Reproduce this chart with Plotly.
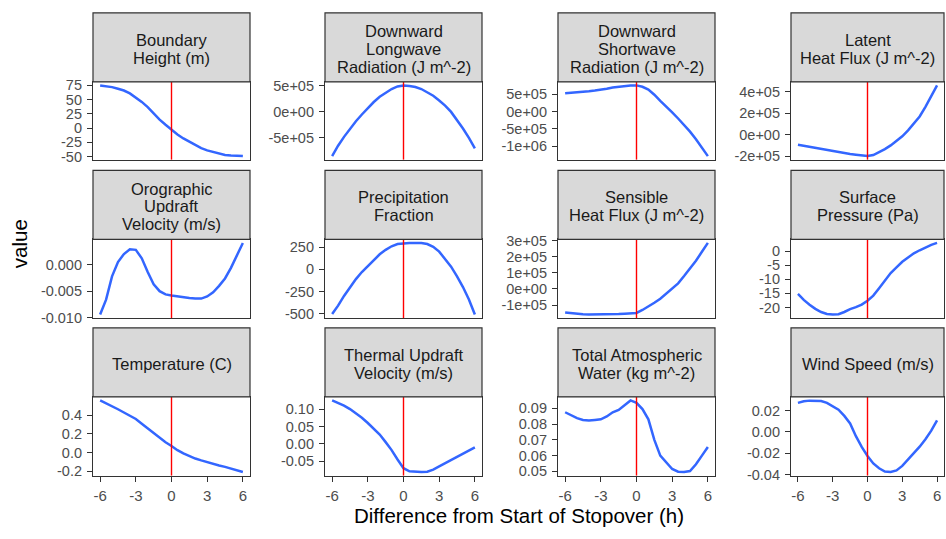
import plotly.graph_objects as go

# Hours relative to the start of the stopover
hours = [-6, -5.5, -5, -4.5, -4, -3.5, -3, -2.5, -2, -1.5, -1, -0.5, 0,
         0.5, 1, 1.5, 2, 2.5, 3, 3.5, 4, 4.5, 5, 5.5, 6]

boundary_height = [75, 74, 72, 69, 66, 61, 54, 46, 37, 26, 15, 6, -3,
                   -11, -18, -24, -30, -35, -39, -42, -45, -47, -48, -49, -49]
longwave = [-8.5e5, -6.5e5, -4.8e5, -3.2e5, -1.8e5, -0.5e5, 0.8e5, 1.9e5, 2.9e5, 3.7e5, 4.4e5, 4.9e5, 5.1e5,
            5.0e5, 4.8e5, 4.4e5, 3.8e5, 3.1e5, 2.2e5, 1.2e5, 0.0, -1.5e5, -3.2e5, -5.0e5, -7.0e5]
shortwave = [5.3e5, 5.4e5, 5.5e5, 5.7e5, 5.9e5, 6.1e5, 6.3e5, 6.6e5, 7.0e5, 7.2e5, 7.5e5, 7.6e5, 7.6e5,
             7.2e5, 6.4e5, 4.9e5, 3.1e5, 1.5e5, -0.2e5, -2.0e5, -3.8e5, -5.8e5, -8.0e5, -10.4e5, -12.9e5]
latent_flux = [-0.95e5, -1.05e5, -1.15e5, -1.25e5, -1.35e5, -1.45e5, -1.55e5, -1.65e5, -1.72e5, -1.8e5, -1.87e5, -1.95e5, -2.0e5,
               -1.9e5, -1.65e5, -1.35e5, -1.0e5, -0.6e5, -0.15e5, 0.4e5, 1.0e5, 1.7e5, 2.6e5, 3.6e5, 4.6e5]
orographic = [-0.0094, -0.0066, -0.0022, 0.0005, 0.0020, 0.0029, 0.0028, 0.0012, -0.0014, -0.0037, -0.0050, -0.0056, -0.0058,
              -0.0060, -0.0062, -0.0063, -0.0064, -0.0064, -0.0060, -0.0052, -0.0040, -0.0026, -0.0006, 0.0017, 0.0041]
precip_fraction = [-505, -410, -300, -200, -110, -30, 40, 110, 170, 220, 260, 285, 295,
                   298, 298, 296, 285, 255, 200, 120, 30, -80, -200, -340, -510]
sensible_flux = [-1.45e5, -1.5e5, -1.55e5, -1.57e5, -1.58e5, -1.58e5, -1.58e5, -1.58e5, -1.57e5, -1.55e5, -1.53e5, -1.51e5, -1.48e5,
                 -1.3e5, -1.1e5, -0.85e5, -0.6e5, -0.3e5, 0.0, 0.35e5, 0.8e5, 1.25e5, 1.75e5, 2.3e5, 2.85e5]
surface_pressure = [-15.2, -17.3, -19.0, -20.5, -21.6, -22.3, -22.5, -22.4, -21.6, -20.6, -19.9, -19.0, -17.6,
                    -15.8, -13.2, -10.3, -7.8, -5.8, -3.8, -2.3, -0.8, 0.3, 1.3, 2.2, 2.9]
temperature = [0.56, 0.53, 0.50, 0.465, 0.43, 0.395, 0.36, 0.31, 0.26, 0.21, 0.155, 0.11, 0.07,
               0.025, -0.01, -0.04, -0.065, -0.085, -0.105, -0.12, -0.14, -0.155, -0.175, -0.19, -0.21]
thermal = [0.125, 0.118, 0.11, 0.10, 0.088, 0.075, 0.06, 0.044, 0.027, 0.005, -0.018, -0.045, -0.07,
           -0.079, -0.081, -0.081, -0.080, -0.074, -0.065, -0.056, -0.048, -0.039, -0.03, -0.02, -0.01]
atmos_water = [0.0875, 0.0855, 0.0838, 0.0826, 0.0822, 0.0826, 0.0830, 0.0848, 0.0875, 0.0890, 0.0918, 0.0950, 0.0935,
               0.0895, 0.0830, 0.0700, 0.0600, 0.0555, 0.0515, 0.0498, 0.0496, 0.0502, 0.0545, 0.0600, 0.0655]
wind_speed = [0.0272, 0.0287, 0.0293, 0.0295, 0.0290, 0.0272, 0.0243, 0.0208, 0.0150, 0.0080, -0.0040, -0.0140, -0.0225,
              -0.0295, -0.0340, -0.0370, -0.0375, -0.0360, -0.0318, -0.0258, -0.0200, -0.0138, -0.0068, 0.0012, 0.0108]

panel_titles = [["Boundary", "Height (m)"],
                ["Downward", "Longwave", "Radiation (J m^-2)"],
                ["Downward", "Shortwave", "Radiation (J m^-2)"],
                ["Latent", "Heat Flux (J m^-2)"],
                ["Orographic", "Updraft", "Velocity (m/s)"],
                ["Precipitation", "Fraction"],
                ["Sensible", "Heat Flux (J m^-2)"],
                ["Surface", "Pressure (Pa)"],
                ["Temperature (C)"],
                ["Thermal Updraft", "Velocity (m/s)"],
                ["Total Atmospheric", "Water (kg m^-2)"],
                ["Wind Speed (m/s)"]]
panel_values = [boundary_height, longwave, shortwave, latent_flux,
                orographic, precip_fraction, sensible_flux, surface_pressure,
                temperature, thermal, atmos_water, wind_speed]

y_tick_values = [[-50, -25, 0, 25, 50, 75],
                 [-5e5, 0, 5e5],
                 [-1e6, -5e5, 0, 5e5],
                 [-2e5, 0, 2e5, 4e5],
                 [-0.010, -0.005, 0.0],
                 [-500, -250, 0, 250],
                 [-1e5, 0, 1e5, 2e5, 3e5],
                 [-20, -15, -10, -5, 0],
                 [-0.2, 0.0, 0.2, 0.4],
                 [-0.05, 0.0, 0.05, 0.10],
                 [0.05, 0.06, 0.07, 0.08, 0.09],
                 [-0.04, -0.02, 0.0, 0.02]]
y_tick_labels = [["-50", "-25", "0", "25", "50", "75"],
                 ["-5e+05", "0e+00", "5e+05"],
                 ["-1e+06", "-5e+05", "0e+00", "5e+05"],
                 ["-2e+05", "0e+00", "2e+05", "4e+05"],
                 ["-0.010", "-0.005", "0.000"],
                 ["-500", "-250", "0", "250"],
                 ["-1e+05", "0e+00", "1e+05", "2e+05", "3e+05"],
                 ["-20", "-15", "-10", "-5", "0"],
                 ["-0.2", "0.0", "0.2", "0.4"],
                 ["-0.05", "0.00", "0.05", "0.10"],
                 ["0.05", "0.06", "0.07", "0.08", "0.09"],
                 ["-0.04", "-0.02", "0.00", "0.02"]]
x_tick_values = [-6, -3, 0, 3, 6]
x_tick_labels = ["-6", "-3", "0", "3", "6"]

W, H = 946, 539
col_px = [(93, 250), (325, 482), (558, 715), (791, 944)]
row_px = [(6, 77, 157), (168, 239, 320), (330, 401, 482)]  # strip top, panel top, panel bottom
STRIP_LINE_GAP = 18.3

FONT = "Liberation Sans, Arial, sans-serif"
LINE_BLUE = "#3366FF"
BORDER = "#333333"
TICK_FONT = dict(family=FONT, size=14.5, color="#4D4D4D")

fig = go.Figure()
shapes = []
annotations = []

x_span = max(hours) - min(hours)
x_range = [min(hours) - 0.05 * x_span, max(hours) + 0.05 * x_span]

for i, (title_lines, vals) in enumerate(zip(panel_titles, panel_values)):
    r, c = divmod(i, 4)
    n = i + 1
    xa = "x" if n == 1 else f"x{n}"
    ya = "y" if n == 1 else f"y{n}"
    xl = "xaxis" if n == 1 else f"xaxis{n}"
    yl = "yaxis" if n == 1 else f"yaxis{n}"
    x0p, x1p = col_px[c]
    st, pt, pb = row_px[r]

    lo, hi = min(vals), max(vals)
    span = hi - lo
    y_range = [lo - 0.05 * span, hi + 0.05 * span]

    fig.add_trace(go.Scatter(x=hours, y=vals, mode="lines", xaxis=xa, yaxis=ya,
                             line=dict(color=LINE_BLUE, width=2.5), showlegend=False,
                             hoverinfo="skip"))

    bottom_row = r == 2
    fig.layout[xl] = dict(domain=[x0p / W, x1p / W], anchor=ya, range=x_range,
                          showgrid=False, zeroline=False, showline=True, mirror=True,
                          linecolor=BORDER, linewidth=1.2,
                          ticks="outside" if bottom_row else "", ticklen=5, tickcolor=BORDER,
                          tickvals=x_tick_values, ticktext=x_tick_labels,
                          showticklabels=bottom_row, ticklabelstandoff=1,
                          tickfont=dict(family=FONT, size=15, color="#4D4D4D"))
    fig.layout[yl] = dict(domain=[1 - pb / H, 1 - pt / H], anchor=xa, range=y_range,
                          showgrid=False, zeroline=False, showline=True, mirror=True,
                          linecolor=BORDER, linewidth=1.2,
                          ticks="outside", ticklen=5, tickcolor=BORDER,
                          tickvals=y_tick_values[i], ticktext=y_tick_labels[i],
                          ticklabelstandoff=2, tickfont=TICK_FONT)

    # stopover start marker
    shapes.append(dict(type="line", xref=xa, yref=f"{ya} domain", x0=0, x1=0, y0=0, y1=1,
                       line=dict(color="#FF0000", width=1.4), layer="above"))
    # facet strip with its label lines
    shapes.append(dict(type="rect", xref="paper", yref="paper",
                       x0=x0p / W, x1=x1p / W, y0=1 - pt / H, y1=1 - st / H,
                       fillcolor="#D9D9D9", line=dict(color=BORDER, width=1.2)))
    mid = (st + pt) / 2 + 1.5
    k = len(title_lines)
    for j, line in enumerate(title_lines):
        yc = mid + (j - (k - 1) / 2) * STRIP_LINE_GAP
        annotations.append(dict(xref="paper", yref="paper", x=(x0p + x1p) / 2 / W,
                                y=1 - yc / H, text=line, showarrow=False,
                                xanchor="center", yanchor="middle",
                                font=dict(family=FONT, size=16.5, color="#1A1A1A")))

annotations.append(dict(xref="paper", yref="paper", x=519 / W, y=1 - 523 / H,
                        text="Difference from Start of Stopover (h)", showarrow=False,
                        xanchor="center", yanchor="middle",
                        font=dict(family=FONT, size=20.5, color="#000000")))
annotations.append(dict(xref="paper", yref="paper", x=19 / W, y=1 - 244 / H,
                        text="value", showarrow=False, textangle=-90,
                        xanchor="center", yanchor="middle",
                        font=dict(family=FONT, size=20.5, color="#000000")))

fig.update_layout(width=W, height=H, margin=dict(l=0, r=0, t=0, b=0),
                  paper_bgcolor="white", plot_bgcolor="white",
                  shapes=shapes, annotations=annotations)

fig.write_html("out.html")
